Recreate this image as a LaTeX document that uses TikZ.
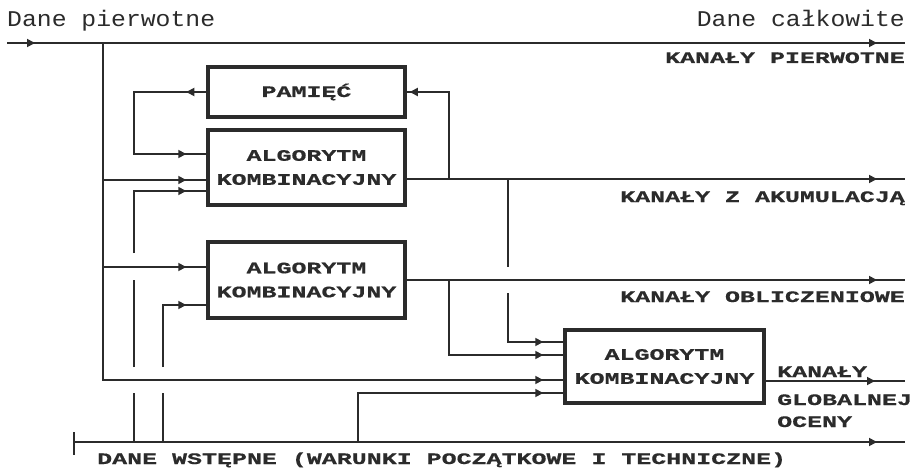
\documentclass[tikz,border=0pt]{standalone}
\usepackage{fontspec}
\usetikzlibrary{decorations.markings,arrows.meta}
\newfontfamily\topfont[FakeStretch=1.1]{Liberation Mono}
\newfontfamily\capsfont[FakeStretch=1.56,FakeBold=0.6]{Liberation Mono Bold}
\definecolor{ink}{HTML}{2B2B2B}
\begin{document}
\begin{tikzpicture}[x=1pt,y=-1pt,
  conn/.style={draw=ink,line width=1.7pt},
  tipat/.style={postaction={decorate,decoration={markings,
      mark=at position #1 with {\arrow[ink]{Triangle[length=8pt,width=8pt]}}}}},
  box/.style={draw=ink,line width=3.5pt,fill=white,text=ink,
      font=\capsfont\fontsize{16}{24}\selectfont,align=center,inner sep=0pt},
  toplab/.style={text=ink,font=\topfont\fontsize{22.5}{26}\selectfont,inner sep=0pt},
  caplab/.style={text=ink,font=\capsfont\fontsize{16}{22}\selectfont,inner sep=0pt}]
\useasboundingbox[fill=white] (0,0) rectangle (918,468);

% boxes
\node[box,minimum width=197,minimum height=50] (mem) at (306.5,92) {PAMIĘĆ};
\node[box,minimum width=197,minimum height=75] (alg1) at (306.5,167.5) {ALGORYTM\\KOMBINACYJNY};
\node[box,minimum width=197,minimum height=76] (alg2) at (306.5,280) {ALGORYTM\\KOMBINACYJNY};
\node[box,minimum width=199,minimum height=73] (alg3) at (664.5,366.5) {ALGORYTM\\KOMBINACYJNY};

% named coordinates
\coordinate (tl) at (7,43);
\coordinate (tr) at (905,43);
\coordinate (bl) at (74,442);
\coordinate (br) at (905,442);
\coordinate (tickA) at (74,432);
\coordinate (tickB) at (74,455);
\coordinate (v103top) at (103,43);
\coordinate (v103bot) at (103,380);
\coordinate (v103a) at (103,180);
\coordinate (v103b) at (103,267);

% top line (Dane pierwotne -> Dane calkowite)
\draw[conn,tipat=28pt,tipat=-28pt] (tl) -- (tr);
% bottom line (dane wstepne)
\draw[conn,tipat=-28pt] (bl) -- (br);
\draw[conn] (tickA) -- (tickB);

% main vertical from primary data
\draw[conn,tipat=-20pt] (v103top) -- (v103bot) -- (alg3.west |- v103bot);
\draw[conn,tipat=-20pt] (v103a) -- (alg1.west |- v103a);
\draw[conn,tipat=-20pt] (v103b) -- (alg2.west |- v103b);

% memory loop left
\draw[conn,tipat=20pt,tipat=-20pt] (mem.west) -- (134,92) -- (134,154) -- (alg1.west |- 0,154);
% memory loop right and output of alg1
\draw[conn,tipat=-3pt] (alg1.east |- 0,179) -- (449,179) -- (449,92) -- (mem.east);
\draw[conn,tipat=-28pt] (alg1.east |- 0,179) -- (tr |- 0,179);

% x=508 vertical to alg3
\draw[conn] (508,179) -- (508,267);
\draw[conn,tipat=-20pt] (508,293) -- (508,342) -- (alg3.west |- 0,342);

% alg2 output
\draw[conn,tipat=-28pt] (alg2.east |- 0,280) -- (tr |- 0,280);
\draw[conn,tipat=-20pt] (449,280) -- (449,355) -- (alg3.west |- 0,355);

% inputs from initial data
\draw[conn] (134,442) -- (134,393);
\draw[conn] (134,367) -- (134,280);
\draw[conn,tipat=-20pt] (134,253) -- (134,191) -- (alg1.west |- 0,191);
\draw[conn] (163,442) -- (163,393);
\draw[conn,tipat=-20pt] (163,367) -- (163,305) -- (alg2.west |- 0,305);
\draw[conn,tipat=-20pt] (358,442) -- (358,393) -- (alg3.west |- 0,393);

% alg3 output
\draw[conn,tipat=-30pt] (alg3.east |- 0,381) -- (tr |- 0,381);

% labels
\node[toplab,anchor=base west] (lp) at (7,27) {Dane pierwotne};
\node[toplab,anchor=base east] (lc) at (905,27) {Dane całkowite};
\node[caplab,anchor=base east] (k1) at (905,63) {KANAŁY PIERWOTNE};
\node[caplab,anchor=base east] (k2) at (905,202) {KANAŁY Z AKUMULACJĄ};
\node[caplab,anchor=base east] (k3) at (905,302) {KANAŁY OBLICZENIOWE};
\node[caplab,anchor=base west] (k4a) at (777,377) {KANAŁY};
\node[caplab,anchor=base west] (k4b) at (777,405) {GLOBALNEJ};
\node[caplab,anchor=base west] (k4c) at (777,427) {OCENY};
\node[caplab,anchor=base west] (dw) at (97,464) {DANE WSTĘPNE (WARUNKI POCZĄTKOWE I TECHNICZNE)};
\end{tikzpicture}
\end{document}
